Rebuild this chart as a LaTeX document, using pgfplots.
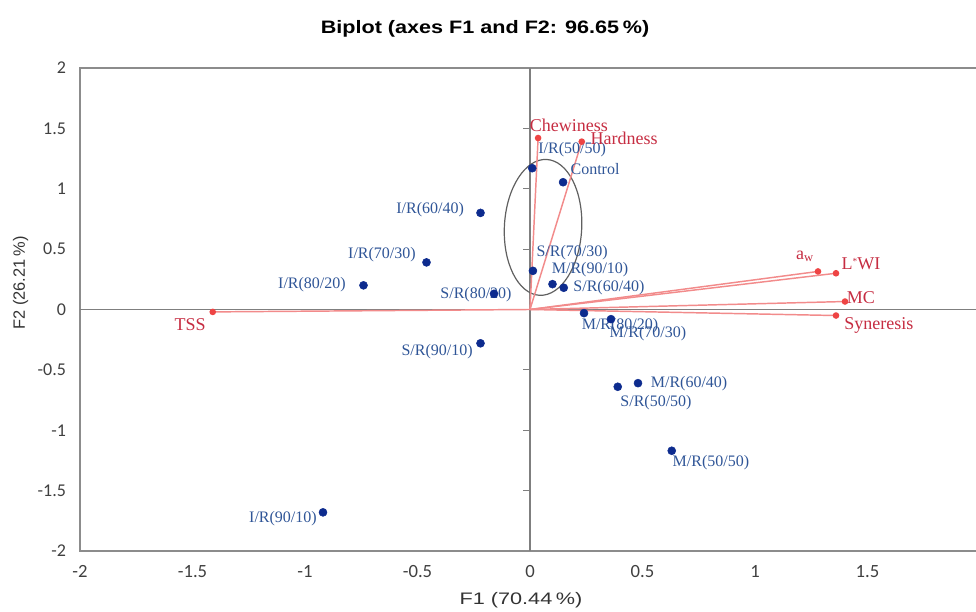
\documentclass[border=0pt]{standalone}
\usepackage{pgfplots}
\pgfplotsset{compat=1.18}
\usepackage{fontspec}
\setmainfont{Liberation Serif}
\newfontfamily\arial{Liberation Sans}
\newfontfamily\calibri{Carlito}
\usetikzlibrary{shapes.geometric}
\definecolor{framegray}{HTML}{8C8C8C}
\definecolor{zerogray}{HTML}{7F7F7F}
\definecolor{vecred}{HTML}{F28B8B}
\definecolor{dotred}{HTML}{EE4444}
\definecolor{txtred}{HTML}{C62D42}
\definecolor{dotblue}{HTML}{0D2B8E}
\definecolor{txtblue}{HTML}{2F5597}
\definecolor{ellgray}{HTML}{606060}
\begin{document}
\begin{tikzpicture}
\begin{axis}[
  scale only axis,
  width=675pt, height=362.25pt,
  xmin=-2, xmax=2, ymin=-2, ymax=2,
  axis line style={framegray, line width=0.8pt},
  major tick length=0pt,
  xtick={-2,-1.5,-1,-0.5,0,0.5,1,1.5,2},
  ytick={-2,-1.5,-1,-0.5,0,0.5,1,1.5,2},
  xticklabel={\calibri\fontsize{14}{16}\selectfont\pgfmathprintnumber[assume math mode=true]{\tick}},
  yticklabel={\calibri\fontsize{13.5}{16}\selectfont\pgfmathprintnumber[assume math mode=true]{\tick}},
  tick label style={text=black!75},
  xticklabel style={yshift=-7pt},
  yticklabel style={xshift=-7pt},
  title={\scalebox{1.2}[1]{\arial\bfseries\fontsize{13.5}{16}\selectfont Biplot (axes F1 and F2: 96.65\,\%)}},
  title style={at={(axis description cs:0.45,1.064)}, anchor=center},
  xlabel={\scalebox{1.3}[1]{\arial\fontsize{12.5}{14}\selectfont F1 (70.44\,\%)}},
  xlabel style={at={(axis description cs:0.49,-0.101)}, anchor=center, text=black!80},
  ylabel={\arial\fontsize{12.3}{14}\selectfont F2 (26.21\,\%)},
  ylabel style={at={(axis description cs:-0.066,0.555)}, anchor=center, text=black!80},
  clip=false,
]
% zero lines
\draw[zerogray, line width=0.8pt] (axis cs:-2,0) -- (axis cs:2,0);
\draw[zerogray, line width=0.8pt] (axis cs:0,-2) -- (axis cs:0,2);
\pgfplotsinvokeforeach{-1.5,-1,-0.5,0.5,1,1.5}{
  \draw[zerogray, line width=0.8pt] (axis cs:0,#1) -- ++(-5pt,0pt);
}
% ellipse
\node[draw=ellgray, line width=0.9pt, ellipse, minimum width=58pt, minimum height=102pt, inner sep=0pt, rotate=-3] at (axis cs:0.058,0.68) {};
% variable vectors
\pgfplotsset{vec/.style={vecred, line width=1.1pt, mark=*, mark indices={2}, mark size=1.9pt, mark options={fill=dotred, draw=dotred}}}
\addplot[vec] coordinates {(0,0) (0.036,1.42)};
\addplot[vec] coordinates {(0,0) (0.23,1.39)};
\addplot[vec] coordinates {(0,0) (1.28,0.315)};
\addplot[vec] coordinates {(0,0) (1.36,0.30)};
\addplot[vec] coordinates {(0,0) (1.40,0.066)};
\addplot[vec] coordinates {(0,0) (1.36,-0.05)};
\addplot[vec] coordinates {(0,0) (-1.41,-0.02)};
% observations
\addplot[only marks, mark=*, mark size=3pt, mark options={fill=dotblue, draw=dotblue}] coordinates {
(0.147,1.054) (0.010,1.170) (-0.22,0.80) (-0.46,0.39) (-0.74,0.20)
(0.013,0.32) (0.10,0.21) (0.15,0.18) (-0.16,0.13) (0.24,-0.03)
(0.36,-0.08) (-0.22,-0.28) (0.48,-0.61) (0.39,-0.64) (0.63,-1.17)
(-0.92,-1.68)
};
% observation labels
\begin{scope}[every node/.style={text=txtblue, font=\fontsize{12}{13}\selectfont, inner sep=0pt}]
\node at (axis cs:0.187,1.320) {I/R(50/50)};
\node at (axis cs:0.289,1.162) {Control};
\node at (axis cs:-0.444,0.830) {I/R(60/40)};
\node at (axis cs:-0.658,0.456) {I/R(70/30)};
\node at (axis cs:-0.969,0.207) {I/R(80/20)};
\node at (axis cs:0.187,0.473) {S/R(70/30)};
\node at (axis cs:0.267,0.332) {M/R(90/10)};
\node at (axis cs:0.351,0.183) {S/R(60/40)};
\node at (axis cs:-0.240,0.124) {S/R(80/20)};
\node at (axis cs:0.400,-0.133) {M/R(80/20)};
\node at (axis cs:0.524,-0.199) {M/R(70/30)};
\node at (axis cs:-0.413,-0.349) {S/R(90/10)};
\node at (axis cs:0.707,-0.614) {M/R(60/40)};
\node at (axis cs:0.560,-0.772) {S/R(50/50)};
\node at (axis cs:0.804,-1.270) {M/R(50/50)};
\node at (axis cs:-1.098,-1.734) {I/R(90/10)};
\end{scope}
% variable labels
\begin{scope}[every node/.style={text=txtred, font=\fontsize{13.5}{15}\selectfont, inner sep=0pt}]
\node at (axis cs:0.173,1.527) {Chewiness};
\node at (axis cs:0.418,1.419) {Hardness};
\node at (axis cs:1.222,0.440) {a\textsubscript{w}};
\node at (axis cs:1.471,0.382) {L\raisebox{0.55ex}{\fontsize{7}{7}\selectfont*}WI};
\node at (axis cs:1.471,0.100) {MC};
\node at (axis cs:1.551,-0.133) {Syneresis};
\node at (axis cs:-1.511,-0.124) {TSS};
\end{scope}
\end{axis}
\pgfresetboundingbox
\path[use as bounding box] ([xshift=-60pt,yshift=-45.75pt]current axis.south west) rectangle ([xshift=672pt,yshift=51pt]current axis.north west);
\end{tikzpicture}
\end{document}
